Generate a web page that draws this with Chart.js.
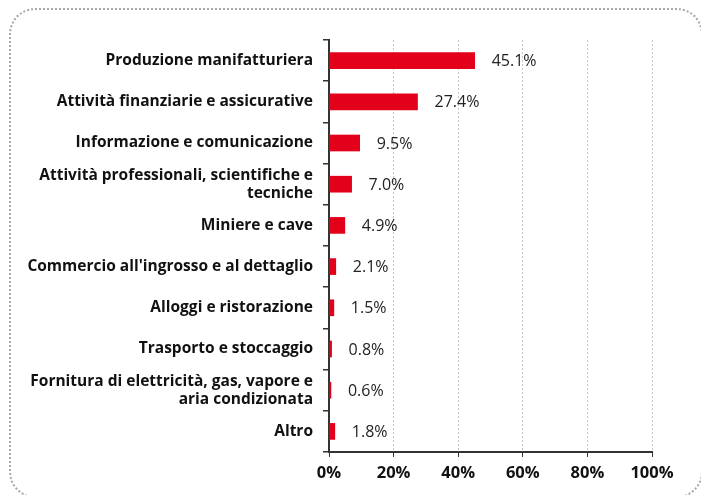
<!DOCTYPE html>
<html>
<head>
<meta charset="utf-8">
<script src="https://cdn.jsdelivr.net/npm/chart.js@4"></script>
<style>
  html, body { margin: 0; padding: 0; background: #fff; }
  #wrap { position: relative; width: 701px; height: 495px; overflow: hidden; }
  #frame {
    position: absolute; left: 9px; top: 8px; width: 694px; height: 490px;
    border: 2px dotted #a6a6a6; border-radius: 26px; box-sizing: border-box;
  }
  canvas { position: absolute; left: 0; top: 0; }
</style>
</head>
<body>
<div id="wrap">
  <div id="frame"></div>
  <canvas id="chart" width="701" height="495"></canvas>
</div>
<script>
const categories = [
  'Produzione manifatturiera',
  'Attività finanziarie e assicurative',
  'Informazione e comunicazione',
  ['Attività professionali, scientifiche e', 'tecniche'],
  'Miniere e cave',
  "Commercio all'ingrosso e al dettaglio",
  'Alloggi e ristorazione',
  'Trasporto e stoccaggio',
  ['Fornitura di elettricità, gas, vapore e', 'aria condizionata'],
  'Altro'
];
const shares = [45.1, 27.4, 9.5, 7.0, 4.9, 2.1, 1.5, 0.8, 0.6, 1.8];
const xTicks = [0, 20, 40, 60, 80, 100];

const barRed = '#e2001a';
const axisColor = '#333333';

// writes the percentage next to each bar
const valueLabels = {
  id: 'valueLabels',
  afterDatasetsDraw(chart) {
    const ctx = chart.ctx;
    const meta = chart.getDatasetMeta(0);
    ctx.save();
    ctx.font = '16px "Open Sans"';
    ctx.fillStyle = '#222222';
    ctx.textAlign = 'left';
    ctx.textBaseline = 'middle';
    meta.data.forEach((bar, i) => {
      ctx.fillText(shares[i].toFixed(1) + '%', bar.x + 17, bar.y + 1);
    });
    ctx.restore();
  }
};

new Chart(document.getElementById('chart').getContext('2d'), {
  type: 'bar',
  data: {
    labels: categories,
    datasets: [{
      data: shares,
      backgroundColor: barRed,
      borderWidth: 0,
      barThickness: 16
    }]
  },
  options: {
    indexAxis: 'y',
    responsive: false,
    animation: false,
    layout: { padding: { left: 10, right: 49, top: 40, bottom: 0 } },
    plugins: {
      legend: { display: false },
      tooltip: { enabled: false }
    },
    scales: {
      x: {
        min: 0,
        max: 100,
        afterBuildTicks: s => { s.ticks = xTicks.map(v => ({ value: v })); },
        afterFit: s => { s.height = 43; },
        grid: {
          color: '#c4c4c4',
          tickColor: axisColor,
          tickLength: 5,
          lineWidth: 1
        },
        border: { display: true, color: axisColor, width: 2, dash: [2, 2] },
        ticks: {
          color: '#111111',
          font: { family: '"Open Sans"', size: 16.5, weight: 'bold' },
          padding: 6,
          callback: v => v + '%'
        }
      },
      y: {
        afterFit: s => { s.width = 319; },
        grid: {
          offset: true,
          drawOnChartArea: false,
          tickColor: axisColor,
          tickLength: 6,
          lineWidth: 1.5
        },
        border: { display: true, color: axisColor, width: 2 },
        ticks: {
          color: '#111111',
          font: { family: '"Open Sans"', size: 15.5, weight: 'bold', lineHeight: 1.15 },
          padding: 10
        }
      }
    }
  },
  plugins: [valueLabels]
});
</script>
</body>
</html>
